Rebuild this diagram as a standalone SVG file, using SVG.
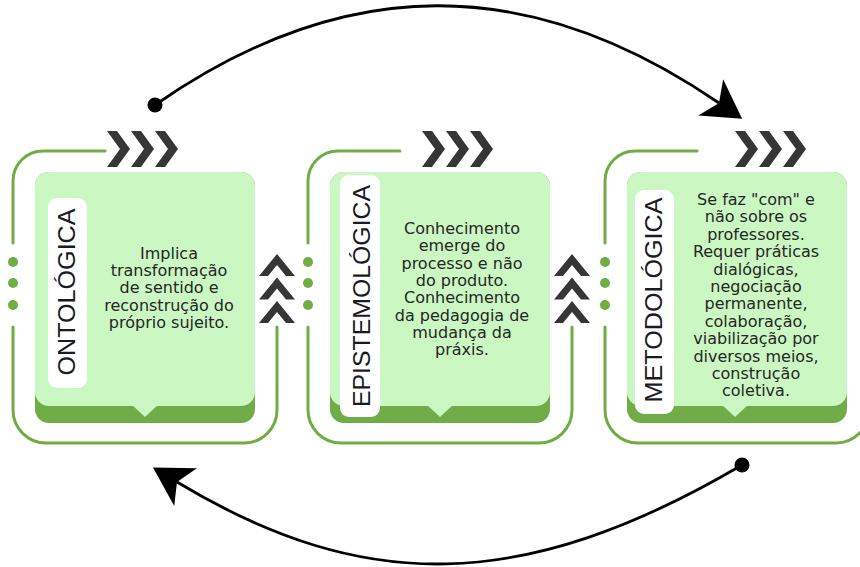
<svg xmlns="http://www.w3.org/2000/svg" width="860" height="567" viewBox="0 0 860 567">
<style>
.frame{fill:none;stroke:#70ad47;stroke-width:3;stroke-linecap:round}
.dot{fill:#70ad47}
.chev{fill:#363636}
.band{fill:#70ad47}
.body{fill:#cbf7c2}
.pill{fill:#ffffff}
.lbl{font-family:"Liberation Sans",Arial,sans-serif;font-size:24px;fill:#1a1a24;text-anchor:middle}
.txt{font-family:"DejaVu Sans",Verdana,sans-serif;font-size:16px;fill:#262626;text-anchor:middle}
.arc{fill:none;stroke:#000;stroke-width:2.8;marker-start:url(#dot);marker-end:url(#head)}
</style>
<defs>
<polygon id="chR" points="0,0 10,0 23,18 10,36 0,36 13,18"/>
<polygon id="chU" points="0,24 18,2 36,24 27,24 18,13 9,24"/>
<marker id="head" markerUnits="userSpaceOnUse" orient="auto" viewBox="-12 -24 42 48" refX="0" refY="0" markerWidth="42" markerHeight="48" overflow="visible">
<path d="M28,0 L-10,-22 L0,0 L-10,22 Z" fill="#000"/>
</marker>
<marker id="dot" markerUnits="userSpaceOnUse" viewBox="-8 -8 16 16" refX="0" refY="0" markerWidth="16" markerHeight="16">
<circle r="7.5" fill="#000"/>
</marker>
</defs>

<g id="node-ontologica">
<path class="frame" d="M105,151 H43 A30,30 0 0 0 13,181 V243 M13,327 V410 A33,33 0 0 0 46,443 H244 A33,33 0 0 0 277,410 V327"/>
<circle class="dot" cx="13" cy="262" r="5"/><circle class="dot" cx="13" cy="283" r="5"/><circle class="dot" cx="13" cy="305" r="5"/>
<use href="#chR" class="chev" x="107" y="131"/><use href="#chR" class="chev" x="131" y="131"/><use href="#chR" class="chev" x="155" y="131"/>
<use href="#chU" class="chev" x="259" y="252"/><use href="#chU" class="chev" x="259" y="275.5"/><use href="#chU" class="chev" x="259" y="299"/>
<rect class="band" x="35" y="172" width="220" height="251" rx="14"/>
<rect class="body" x="35" y="172" width="220" height="234" rx="14"/>
<path class="body" d="M131,404 L145,417 L159,404 Z"/>
<rect class="pill" x="48" y="198" width="39" height="190" rx="9"/>
<text class="lbl" transform="translate(75,292) rotate(-90)" textLength="167" lengthAdjust="spacingAndGlyphs">ONTOLÓGICA</text>
<text class="txt" x="169" y="259">Implica<tspan x="169" dy="17.2">transformação</tspan><tspan x="169" dy="17.2">de sentido e</tspan><tspan x="169" dy="17.2">reconstrução do</tspan><tspan x="169" dy="17.2">próprio sujeito.</tspan></text>
</g>

<g id="node-epistemologica">
<path class="frame" d="M400,151 H338 A30,30 0 0 0 308,181 V243 M308,327 V410 A33,33 0 0 0 341,443 H539 A33,33 0 0 0 572,410 V327"/>
<circle class="dot" cx="308" cy="262" r="5"/><circle class="dot" cx="308" cy="283" r="5"/><circle class="dot" cx="308" cy="305" r="5"/>
<use href="#chR" class="chev" x="422" y="131"/><use href="#chR" class="chev" x="446" y="131"/><use href="#chR" class="chev" x="470" y="131"/>
<use href="#chU" class="chev" x="554" y="252"/><use href="#chU" class="chev" x="554" y="275.5"/><use href="#chU" class="chev" x="554" y="299"/>
<rect class="band" x="330" y="172" width="220" height="251" rx="14"/>
<rect class="body" x="330" y="172" width="220" height="234" rx="14"/>
<path class="body" d="M426,404 L440,417 L454,404 Z"/>
<rect class="pill" x="340" y="175" width="40" height="242" rx="9"/>
<text class="lbl" transform="translate(370,296) rotate(-90)" textLength="222" lengthAdjust="spacingAndGlyphs">EPISTEMOLÓGICA</text>
<text class="txt" x="462" y="234">Conhecimento<tspan x="462" dy="17.3">emerge do</tspan><tspan x="462" dy="17.3">processo e não</tspan><tspan x="462" dy="17.3">do produto.</tspan><tspan x="462" dy="17.3">Conhecimento</tspan><tspan x="462" dy="17.3">da pedagogia de</tspan><tspan x="462" dy="17.3">mudança da</tspan><tspan x="462" dy="17.3">práxis.</tspan></text>
</g>

<g id="node-metodologica">
<path class="frame" d="M697,151 H635 A30,30 0 0 0 605,181 V243 M605,327 V410 A33,33 0 0 0 638,443 H836 A33,33 0 0 0 869,410 V327"/>
<circle class="dot" cx="605" cy="262" r="5"/><circle class="dot" cx="605" cy="283" r="5"/><circle class="dot" cx="605" cy="305" r="5"/>
<use href="#chR" class="chev" x="735" y="131"/><use href="#chR" class="chev" x="759" y="131"/><use href="#chR" class="chev" x="783" y="131"/>
<rect class="band" x="627" y="172" width="220" height="251" rx="14"/>
<rect class="body" x="627" y="172" width="220" height="234" rx="14"/>
<path class="body" d="M721,404 L735,417 L749,404 Z"/>
<rect class="pill" x="635" y="190" width="39" height="224" rx="9"/>
<text class="lbl" transform="translate(662,300) rotate(-90)" textLength="205" lengthAdjust="spacingAndGlyphs">METODOLÓGICA</text>
<text class="txt" x="756" y="205">Se faz "com" e<tspan x="756" dy="17.4">não sobre os</tspan><tspan x="756" dy="17.4">professores.</tspan><tspan x="756" dy="17.4">Requer práticas</tspan><tspan x="756" dy="17.4">dialógicas,</tspan><tspan x="756" dy="17.4">negociação</tspan><tspan x="756" dy="17.4">permanente,</tspan><tspan x="756" dy="17.4">colaboração,</tspan><tspan x="756" dy="17.4">viabilização por</tspan><tspan x="756" dy="17.4">diversos meios,</tspan><tspan x="756" dy="17.4">construção</tspan><tspan x="756" dy="17.4">coletiva.</tspan></text>
</g>

<g id="connectors">
<path class="arc" d="M155,105 C345,-27 529,-27 719,103"/>
<path class="arc" d="M742,465 C522,594 363,594 177,482"/>
</g>
</svg>
